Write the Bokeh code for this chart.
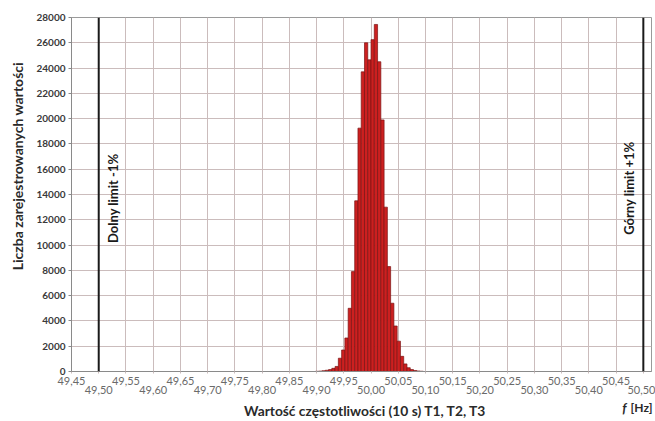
import math
from bokeh.plotting import figure
from bokeh.layouts import column, row
from bokeh.models import (ColumnDataSource, FixedTicker, Span, Label, Legend,
                          LegendItem, Range1d, LinearAxis)
from bokeh.embed import file_html
from bokeh.resources import INLINE

# ---------------- data ----------------
bin_width = 0.006
bin_centers = [49.901, 49.907, 49.913, 49.919, 49.925, 49.931, 49.937, 49.943,
               49.949, 49.955, 49.961, 49.967, 49.973, 49.979, 49.985, 49.991,
               49.997, 50.003, 50.009, 50.015, 50.021, 50.027, 50.033, 50.039,
               50.045, 50.051, 50.057, 50.063, 50.069, 50.075, 50.081, 50.087,
               50.093]
counts = [15, 30, 60, 100, 150, 250, 400, 1050,
          1700, 2650, 5000, 7900, 13500, 19250, 23700, 26000,
          24650, 26250, 27450, 24500, 19900, 13000, 8300, 5400,
          3600, 2400, 1200, 600, 300, 150, 80, 40,
          20]

x_tick_values = [49.45, 49.50, 49.55, 49.60, 49.65, 49.70, 49.75, 49.80,
                 49.85, 49.90, 49.95, 50.00, 50.05, 50.10, 50.15, 50.20,
                 50.25, 50.30, 50.35, 50.40, 50.45, 50.50]
x_tick_labels = ["49,45", "49,50", "49,55", "49,60", "49,65", "49,70", "49,75",
                 "49,80", "49,85", "49,90", "49,95", "50,00", "50,05", "50,10",
                 "50,15", "50,20", "50,25", "50,30", "50,35", "50,40", "50,45",
                 "50,50"]
y_tick_values = [0, 2000, 4000, 6000, 8000, 10000, 12000, 14000, 16000, 18000,
                 20000, 22000, 24000, 26000, 28000]

limit_values = [49.50, 50.50]
limit_labels = ["Dolny limit -1%", "Górny limit +1%"]
limit_label_y = [13700, 14500]

series_name = "Wartość częstotliwości (10 s) T1, T2, T3"
y_title = "Liczba zarejestrowanych wartości"

FONT = "Lato"
GRID = "#cbbcbc"
BAR_FILL = "#cc2020"
BAR_LINE = "#7a1414"
TEXT = "#2a2a2a"

# ---------------- main figure ----------------
p = figure(width=625, height=400, output_backend="svg", toolbar_location=None,
           x_range=Range1d(49.45, 50.515), y_range=Range1d(0, 28000),
           min_border_left=41, min_border_right=4, min_border_top=17,
           min_border_bottom=29,
           background_fill_color="white", border_fill_color="white")
p.outline_line_color = "#9a9a9a"

src = ColumnDataSource(dict(x=bin_centers, top=counts))
r = p.vbar(x="x", top="top", width=bin_width, source=src,
           fill_color=BAR_FILL, line_color=BAR_LINE, line_width=0.7)

upper_ticks = x_tick_values[0::2]
lower_ticks = x_tick_values[1::2]
lower_labels = x_tick_labels[1::2]

xa = p.xaxis[0]
xa.ticker = FixedTicker(ticks=x_tick_values)
xa.major_label_overrides = {v: (lab if v in upper_ticks else "")
                            for v, lab in zip(x_tick_values, x_tick_labels)}
xa.major_label_text_font = FONT
xa.major_label_text_font_size = "11px"
xa.major_label_text_color = "#6a6a6a"
xa.major_label_standoff = 3
xa.major_tick_out = 2
xa.major_tick_in = 0
xa.major_tick_line_color = GRID
xa.minor_tick_line_color = None
xa.axis_line_color = "#8a8a8a"

xb = LinearAxis(ticker=FixedTicker(ticks=lower_ticks),
                major_label_overrides=dict(zip(lower_ticks, lower_labels)),
                axis_line_color=None, major_tick_line_color=None,
                minor_tick_line_color=None, major_tick_out=0, major_tick_in=0,
                major_label_standoff=-2,
                major_label_text_font=FONT, major_label_text_font_size="11px",
                major_label_text_color="#6a6a6a")
p.add_layout(xb, "below")

ya = p.yaxis[0]
ya.ticker = FixedTicker(ticks=y_tick_values)
ya.major_label_text_font = FONT
ya.major_label_text_font_size = "10px"
ya.major_label_text_font_style = "bold"
ya.major_label_text_color = "#3a3a3a"
ya.major_label_standoff = 3
ya.major_tick_out = 3
ya.major_tick_in = 0
ya.major_tick_line_color = "#8a8a8a"
ya.minor_tick_line_color = None
ya.axis_line_color = "#8a8a8a"

p.xgrid.grid_line_color = GRID
p.ygrid.grid_line_color = GRID

for xv, txt, yv, side in zip(limit_values, limit_labels, limit_label_y, [1, -1]):
    p.add_layout(Span(location=xv, dimension="height", line_color="#1a1a1a",
                      line_width=2))
    p.add_layout(Label(x=xv, y=yv, text=txt, angle=math.pi / 2,
                       x_offset=6 * side, text_align="center",
                       text_baseline="top" if side == 1 else "bottom",
                       text_font=FONT, text_font_size="13px",
                       text_font_style="bold", text_color="#1a1a1a"))

# ---------------- y-title strip (left) ----------------
pl = figure(width=30, height=400, output_backend="svg", toolbar_location=None,
            x_range=Range1d(0, 30), y_range=Range1d(0, 400),
            x_axis_location=None, y_axis_location=None, min_border=0,
            background_fill_color="white", border_fill_color="white")
pl.outline_line_color = None
pl.grid.visible = False
pl.add_layout(Label(x=17, y=232, text=y_title, angle=math.pi / 2,
                    text_align="center", text_baseline="middle",
                    text_font=FONT, text_font_size="14px",
                    text_font_style="bold", text_color=TEXT))

# ---------------- legend / x-title strip (bottom) ----------------
p2 = figure(width=655, height=21, output_backend="svg", toolbar_location=None,
            x_range=Range1d(0, 655), y_range=Range1d(0, 21),
            x_axis_location=None, y_axis_location=None, min_border=0,
            background_fill_color="white", border_fill_color="white")
p2.outline_line_color = None
p2.grid.visible = False
r2 = p2.vbar(x=[], top=[], width=1, fill_color=BAR_FILL, line_color=BAR_LINE)

legend = Legend(items=[LegendItem(label=series_name, renderers=[r2])],
                location=(226, 2), orientation="horizontal",
                label_text_font=FONT, label_text_font_size="13.8px",
                label_text_font_style="bold", label_text_color=TEXT,
                glyph_width=6, glyph_height=6, label_height=15,
                label_standoff=12, padding=2, margin=0,
                border_line_color=None, background_fill_alpha=0)
p2.add_layout(legend)

p2.add_layout(Label(x=652, y=14, text="[Hz]", text_align="right",
                    text_baseline="middle", text_font=FONT,
                    text_font_size="12px", text_font_style="bold",
                    text_color=TEXT))
p2.add_layout(Label(x=626, y=14, text="f", text_align="right",
                    text_baseline="middle", text_font=FONT,
                    text_font_size="13px", text_font_style="bold italic",
                    text_color=TEXT))

layout = column(row(pl, p, spacing=0), p2, spacing=0)
open("out.html", "w").write(file_html(layout, INLINE))
